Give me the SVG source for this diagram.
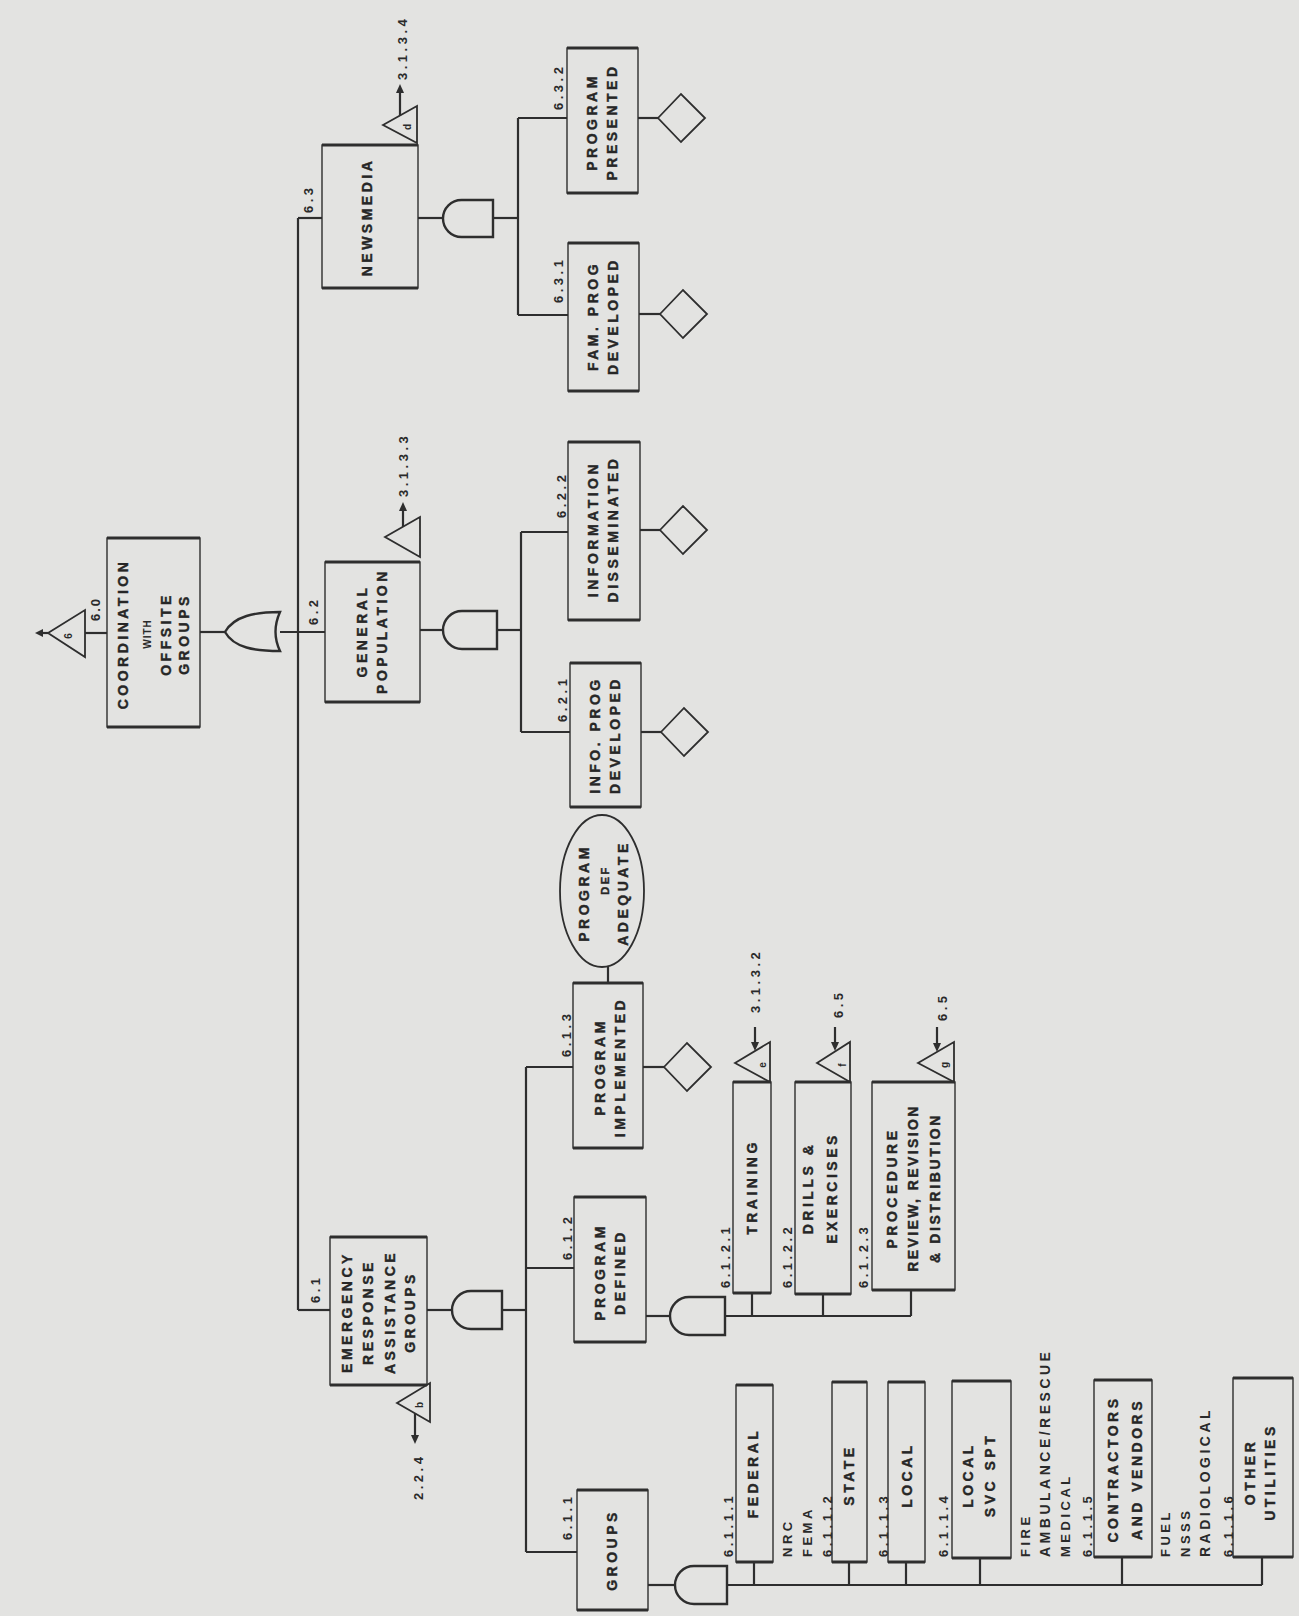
<svg xmlns="http://www.w3.org/2000/svg" width="1299" height="1616" viewBox="0 0 1299 1616">
<style>
.bx{fill:none;stroke:#2e2e2e;stroke-width:1.4}
.ed{fill:none;stroke:#2e2e2e;stroke-width:2.8}
.ln{fill:none;stroke:#2e2e2e;stroke-width:2.2}
.gt{fill:none;stroke:#2e2e2e;stroke-width:2.4}
.dm{fill:none;stroke:#2e2e2e;stroke-width:1.8}
.ah{fill:#2e2e2e}
.t{font-family:"Liberation Sans",Arial,sans-serif;font-weight:bold;font-size:14px;letter-spacing:3.5px;fill:#262626;stroke:#262626;stroke-width:0.4px;text-anchor:middle}
.n{font-family:"Liberation Sans",Arial,sans-serif;font-weight:bold;font-size:13px;letter-spacing:3.5px;fill:#2a2a2a}
.s{font-family:"Liberation Sans",Arial,sans-serif;font-weight:bold;font-size:10px;fill:#2a2a2a;text-anchor:middle}
</style>
<rect x="0" y="0" width="1299" height="1616" fill="#e3e3e1"/>

<g id="connectors">
  <path class="ln" d="M48,633 H41"/>
  <polygon class="ah" points="35,633 43,629 43,637"/>
  <path class="ln" d="M85,633 H107"/>
  <path class="ln" d="M200,632 H225"/>
  <path class="ln" d="M280,632 H325"/>
  <path class="ln" d="M298,218 V1310"/>
  <path class="ln" d="M298,218 H322"/>
  <path class="ln" d="M298,1310 H330"/>
  <path class="ln" d="M418,218 H443"/>
  <path class="ln" d="M493,218 H518"/>
  <path class="ln" d="M518,118 V315"/>
  <path class="ln" d="M518,118 H567"/>
  <path class="ln" d="M518,315 H568"/>
  <path class="ln" d="M638,118 H658"/>
  <path class="ln" d="M639,314 H660"/>
  <path class="ln" d="M420,630 H443"/>
  <path class="ln" d="M497,630 H521"/>
  <path class="ln" d="M521,532 V732"/>
  <path class="ln" d="M521,532 H568"/>
  <path class="ln" d="M521,732 H570"/>
  <path class="ln" d="M640,530 H660"/>
  <path class="ln" d="M641,732 H661"/>
  <path class="ln" d="M427,1310 H452"/>
  <path class="ln" d="M502,1310 H526"/>
  <path class="ln" d="M526,1067 V1552"/>
  <path class="ln" d="M526,1067 H573"/>
  <path class="ln" d="M526,1268 H574"/>
  <path class="ln" d="M526,1552 H577"/>
  <path class="ln" d="M643,1067 H664"/>
  <path class="ln" d="M608,967 V983"/>
  <path class="ln" d="M646,1316 H670"/>
  <path class="ln" d="M725,1316 H911"/>
  <path class="ln" d="M752,1316 V1293"/>
  <path class="ln" d="M823,1316 V1294"/>
  <path class="ln" d="M911,1316 V1290"/>
  <path class="ln" d="M648,1585 H675"/>
  <path class="ln" d="M727,1585 H1262"/>
  <path class="ln" d="M754,1585 V1562"/>
  <path class="ln" d="M849,1585 V1562"/>
  <path class="ln" d="M906,1585 V1562"/>
  <path class="ln" d="M980,1585 V1558"/>
  <path class="ln" d="M1122,1585 V1557"/>
  <path class="ln" d="M1262,1585 V1557"/>
  <path class="ln" d="M400,116 V92"/>
  <polygon class="ah" points="400,84 396,93 404,93"/>
  <path class="ln" d="M403,527 V510"/>
  <polygon class="ah" points="403,502 399,511 407,511"/>
  <path class="ln" d="M415,1413 V1436"/>
  <polygon class="ah" points="415,1444 411,1435 419,1435"/>
  <path class="ln" d="M755,1027 V1044"/>
  <polygon class="ah" points="755,1051 751,1042 759,1042"/>
  <path class="ln" d="M835,1027 V1044"/>
  <polygon class="ah" points="835,1051 831,1042 839,1042"/>
  <path class="ln" d="M937,1027 V1045"/>
  <polygon class="ah" points="937,1052 933,1043 941,1043"/>
</g>

<g id="gates">
  <path id="g6_0" class="gt" d="M280,612 C255,612 234,616 225,632 C234,648 255,651 280,651 Q271,632 280,612 Z"/>
  <path id="g6_3" class="gt" d="M493,200 H461.5 A18.5,18.5 0 0 0 461.5,237 H493 Z"/>
  <path id="g6_2" class="gt" d="M497,611 H462 A19,19 0 0 0 462,649 H497 Z"/>
  <path id="g6_1" class="gt" d="M502,1291 H471 A19,19 0 0 0 471,1329 H502 Z"/>
  <path id="g6_1_2" class="gt" d="M725,1297 H689 A19,19 0 0 0 689,1335 H725 Z"/>
  <path id="g6_1_1" class="gt" d="M727,1566 H694 A19,19 0 0 0 694,1604 H727 Z"/>
</g>

<g id="transfers">
  <g id="tr6"><polygon class="dm" points="48,633 85,610 85,657"/><text class="s" x="72" y="636" transform="rotate(-90 72 636)">6</text></g>
  <g id="trd"><polygon class="dm" points="383,125 417,106 417,143"/><text class="s" x="411" y="127" transform="rotate(-90 411 127)">d</text></g>
  <g id="trc"><polygon class="dm" points="385,537 420,517 420,557"/></g>
  <g id="trb"><polygon class="dm" points="397,1403 430,1383 430,1422"/><text class="s" x="423" y="1405" transform="rotate(-90 423 1405)">b</text></g>
  <g id="tre"><polygon class="dm" points="735,1063 770,1042 770,1082"/><text class="s" x="766" y="1065" transform="rotate(-90 766 1065)">e</text></g>
  <g id="trf"><polygon class="dm" points="817,1063 850,1042 850,1082"/><text class="s" x="846" y="1065" transform="rotate(-90 846 1065)">f</text></g>
  <g id="trg"><polygon class="dm" points="918,1063 954,1042 954,1082"/><text class="s" x="948" y="1065" transform="rotate(-90 948 1065)">g</text></g>
</g>

<g id="undeveloped">
  <polygon id="u6_3_2" class="dm" points="658,118 681,94 705,118 681,142"/>
  <polygon id="u6_3_1" class="dm" points="660,314 683,290 707,314 683,338"/>
  <polygon id="u6_2_2" class="dm" points="660,530 683,506 707,530 683,554"/>
  <polygon id="u6_2_1" class="dm" points="661,732 684,708 708,732 684,756"/>
  <polygon id="u6_1_3" class="dm" points="664,1067 687,1043 711,1067 687,1091"/>
</g>

<g id="n6_0">
  <rect class="bx" x="107" y="538" width="93" height="189"/>
  <path class="ed" d="M107,538 H200 M107,727 H200"/>
  <text class="t" x="128" y="634" transform="rotate(-90 128 634)">COORDINATION</text>
  <text class="s" x="151" y="634" transform="rotate(-90 151 634)" style="letter-spacing:1px">WITH</text>
  <text class="t" x="171" y="634" transform="rotate(-90 171 634)">OFFSITE</text>
  <text class="t" x="189" y="634" transform="rotate(-90 189 634)">GROUPS</text>
  <text class="n" x="100" y="621" transform="rotate(-90 100 621)" style="letter-spacing:2px">6.0</text>
</g>

<g id="n6_3">
  <rect class="bx" x="322" y="145" width="96" height="143"/>
  <path class="ed" d="M322,145 H418 M322,288 H418"/>
  <text class="t" x="372" y="217" transform="rotate(-90 372 217)">NEWSMEDIA</text>
  <text class="n" x="313" y="213" transform="rotate(-90 313 213)">6.3</text>
  <text class="n" x="407" y="80" transform="rotate(-90 407 80)">3.1.3.4</text>
</g>

<g id="n6_2">
  <rect class="bx" x="325" y="562" width="95" height="140"/>
  <path class="ed" d="M325,562 H420 M325,702 H420"/>
  <text class="t" x="367" y="631" transform="rotate(-90 367 631)">GENERAL</text>
  <text class="t" x="387" y="631" transform="rotate(-90 387 631)">POPULATION</text>
  <text class="n" x="318" y="625" transform="rotate(-90 318 625)">6.2</text>
  <text class="n" x="408" y="497" transform="rotate(-90 408 497)">3.1.3.3</text>
</g>

<g id="n6_1">
  <rect class="bx" x="330" y="1237" width="97" height="148"/>
  <path class="ed" d="M330,1237 H427 M330,1385 H427"/>
  <text class="t" x="352" y="1312" transform="rotate(-90 352 1312)">EMERGENCY</text>
  <text class="t" x="373" y="1312" transform="rotate(-90 373 1312)">RESPONSE</text>
  <text class="t" x="395" y="1312" transform="rotate(-90 395 1312)">ASSISTANCE</text>
  <text class="t" x="415" y="1312" transform="rotate(-90 415 1312)">GROUPS</text>
  <text class="n" x="320" y="1303" transform="rotate(-90 320 1303)">6.1</text>
  <text class="n" x="423" y="1500" transform="rotate(-90 423 1500)">2.2.4</text>
</g>

<g id="n6_3_2">
  <rect class="bx" x="567" y="48" width="71" height="145"/>
  <path class="ed" d="M567,48 H638 M567,193 H638"/>
  <text class="t" x="597" y="122" transform="rotate(-90 597 122)">PROGRAM</text>
  <text class="t" x="617" y="122" transform="rotate(-90 617 122)">PRESENTED</text>
  <text class="n" x="563" y="110" transform="rotate(-90 563 110)">6.3.2</text>
</g>

<g id="n6_3_1">
  <rect class="bx" x="568" y="243" width="71" height="148"/>
  <path class="ed" d="M568,243 H639 M568,391 H639"/>
  <text class="t" x="598" y="316" transform="rotate(-90 598 316)">FAM. PROG</text>
  <text class="t" x="618" y="316" transform="rotate(-90 618 316)">DEVELOPED</text>
  <text class="n" x="563" y="303" transform="rotate(-90 563 303)">6.3.1</text>
</g>

<g id="n6_2_2">
  <rect class="bx" x="568" y="442" width="72" height="178"/>
  <path class="ed" d="M568,442 H640 M568,620 H640"/>
  <text class="t" x="598" y="529" transform="rotate(-90 598 529)">INFORMATION</text>
  <text class="t" x="618" y="529" transform="rotate(-90 618 529)">DISSEMINATED</text>
  <text class="n" x="566" y="518" transform="rotate(-90 566 518)">6.2.2</text>
</g>

<g id="n6_2_1">
  <rect class="bx" x="570" y="663" width="71" height="144"/>
  <path class="ed" d="M570,663 H641 M570,807 H641"/>
  <text class="t" x="600" y="735" transform="rotate(-90 600 735)">INFO. PROG</text>
  <text class="t" x="620" y="735" transform="rotate(-90 620 735)">DEVELOPED</text>
  <text class="n" x="567" y="722" transform="rotate(-90 567 722)">6.2.1</text>
</g>

<g id="cond_program_def_adequate">
  <ellipse class="dm" cx="602" cy="891" rx="42" ry="76"/>
  <text class="t" x="589" y="893" transform="rotate(-90 589 893)">PROGRAM</text>
  <text class="t" x="609" y="880" transform="rotate(-90 609 880)" style="font-size:11px;letter-spacing:2.5px">DEF</text>
  <text class="t" x="628" y="893" transform="rotate(-90 628 893)">ADEQUATE</text>
</g>

<g id="n6_1_3">
  <rect class="bx" x="573" y="983" width="70" height="165"/>
  <path class="ed" d="M573,983 H643 M573,1148 H643"/>
  <text class="t" x="605" y="1067" transform="rotate(-90 605 1067)">PROGRAM</text>
  <text class="t" x="625" y="1067" transform="rotate(-90 625 1067)">IMPLEMENTED</text>
  <text class="n" x="571" y="1057" transform="rotate(-90 571 1057)">6.1.3</text>
</g>

<g id="n6_1_2">
  <rect class="bx" x="574" y="1197" width="72" height="145"/>
  <path class="ed" d="M574,1197 H646 M574,1342 H646"/>
  <text class="t" x="605" y="1272" transform="rotate(-90 605 1272)">PROGRAM</text>
  <text class="t" x="625" y="1272" transform="rotate(-90 625 1272)">DEFINED</text>
  <text class="n" x="572" y="1260" transform="rotate(-90 572 1260)">6.1.2</text>
</g>

<g id="n6_1_1">
  <rect class="bx" x="577" y="1490" width="71" height="120"/>
  <path class="ed" d="M577,1490 H648 M577,1610 H648"/>
  <text class="t" x="617" y="1550" transform="rotate(-90 617 1550)">GROUPS</text>
  <text class="n" x="572" y="1540" transform="rotate(-90 572 1540)">6.1.1</text>
</g>

<g id="n6_1_2_1">
  <rect class="bx" x="733" y="1082" width="38" height="211"/>
  <path class="ed" d="M733,1082 H771 M733,1293 H771"/>
  <text class="t" x="757" y="1187" transform="rotate(-90 757 1187)">TRAINING</text>
  <text class="n" x="730" y="1288" transform="rotate(-90 730 1288)">6.1.2.1</text>
  <text class="n" x="760" y="1013" transform="rotate(-90 760 1013)">3.1.3.2</text>
</g>

<g id="n6_1_2_2">
  <rect class="bx" x="795" y="1082" width="56" height="212"/>
  <path class="ed" d="M795,1082 H851 M795,1294 H851"/>
  <text class="t" x="813" y="1188" transform="rotate(-90 813 1188)">DRILLS &amp;</text>
  <text class="t" x="837" y="1188" transform="rotate(-90 837 1188)">EXERCISES</text>
  <text class="n" x="792" y="1288" transform="rotate(-90 792 1288)">6.1.2.2</text>
  <text class="n" x="843" y="1018" transform="rotate(-90 843 1018)">6.5</text>
</g>

<g id="n6_1_2_3">
  <rect class="bx" x="872" y="1082" width="83" height="208"/>
  <path class="ed" d="M872,1082 H955 M872,1290 H955"/>
  <text class="t" x="897" y="1188" transform="rotate(-90 897 1188)">PROCEDURE</text>
  <text class="t" x="918" y="1188" transform="rotate(-90 918 1188)" style="letter-spacing:2.4px">REVIEW, REVISION</text>
  <text class="t" x="940" y="1188" transform="rotate(-90 940 1188)" style="letter-spacing:2.6px">&amp; DISTRIBUTION</text>
  <text class="n" x="868" y="1288" transform="rotate(-90 868 1288)">6.1.2.3</text>
  <text class="n" x="947" y="1021" transform="rotate(-90 947 1021)">6.5</text>
</g>

<g id="n6_1_1_1">
  <rect class="bx" x="736" y="1385" width="37" height="177"/>
  <path class="ed" d="M736,1385 H773 M736,1562 H773"/>
  <text class="t" x="758" y="1473" transform="rotate(-90 758 1473)">FEDERAL</text>
  <text class="n" x="733" y="1557" transform="rotate(-90 733 1557)">6.1.1.1</text>
  <text class="n" x="792" y="1557" transform="rotate(-90 792 1557)">NRC</text>
  <text class="n" x="812" y="1557" transform="rotate(-90 812 1557)">FEMA</text>
</g>

<g id="n6_1_1_2">
  <rect class="bx" x="832" y="1382" width="35" height="180"/>
  <path class="ed" d="M832,1382 H867 M832,1562 H867"/>
  <text class="t" x="854" y="1475" transform="rotate(-90 854 1475)">STATE</text>
  <text class="n" x="832" y="1557" transform="rotate(-90 832 1557)">6.1.1.2</text>
</g>

<g id="n6_1_1_3">
  <rect class="bx" x="888" y="1382" width="37" height="180"/>
  <path class="ed" d="M888,1382 H925 M888,1562 H925"/>
  <text class="t" x="912" y="1475" transform="rotate(-90 912 1475)">LOCAL</text>
  <text class="n" x="888" y="1557" transform="rotate(-90 888 1557)">6.1.1.3</text>
</g>

<g id="n6_1_1_4">
  <rect class="bx" x="952" y="1381" width="59" height="177"/>
  <path class="ed" d="M952,1381 H1011 M952,1558 H1011"/>
  <text class="t" x="973" y="1475" transform="rotate(-90 973 1475)">LOCAL</text>
  <text class="t" x="995" y="1475" transform="rotate(-90 995 1475)">SVC SPT</text>
  <text class="n" x="948" y="1557" transform="rotate(-90 948 1557)">6.1.1.4</text>
  <text class="n" x="1030" y="1557" transform="rotate(-90 1030 1557)">FIRE</text>
  <text class="n" x="1050" y="1557" transform="rotate(-90 1050 1557)" style="font-size:14px">AMBULANCE/RESCUE</text>
  <text class="n" x="1070" y="1557" transform="rotate(-90 1070 1557)">MEDICAL</text>
</g>

<g id="n6_1_1_5">
  <rect class="bx" x="1094" y="1380" width="58" height="177"/>
  <path class="ed" d="M1094,1380 H1152 M1094,1557 H1152"/>
  <text class="t" x="1118" y="1469" transform="rotate(-90 1118 1469)">CONTRACTORS</text>
  <text class="t" x="1142" y="1469" transform="rotate(-90 1142 1469)">AND VENDORS</text>
  <text class="n" x="1092" y="1557" transform="rotate(-90 1092 1557)">6.1.1.5</text>
  <text class="n" x="1170" y="1557" transform="rotate(-90 1170 1557)">FUEL</text>
  <text class="n" x="1190" y="1557" transform="rotate(-90 1190 1557)">NSSS</text>
  <text class="n" x="1210" y="1557" transform="rotate(-90 1210 1557)" style="font-size:14px">RADIOLOGICAL</text>
</g>

<g id="n6_1_1_6">
  <rect class="bx" x="1233" y="1378" width="60" height="179"/>
  <path class="ed" d="M1233,1378 H1293 M1233,1557 H1293"/>
  <text class="t" x="1255" y="1472" transform="rotate(-90 1255 1472)">OTHER</text>
  <text class="t" x="1275" y="1472" transform="rotate(-90 1275 1472)">UTILITIES</text>
  <text class="n" x="1233" y="1557" transform="rotate(-90 1233 1557)">6.1.1.6</text>
</g>
</svg>
